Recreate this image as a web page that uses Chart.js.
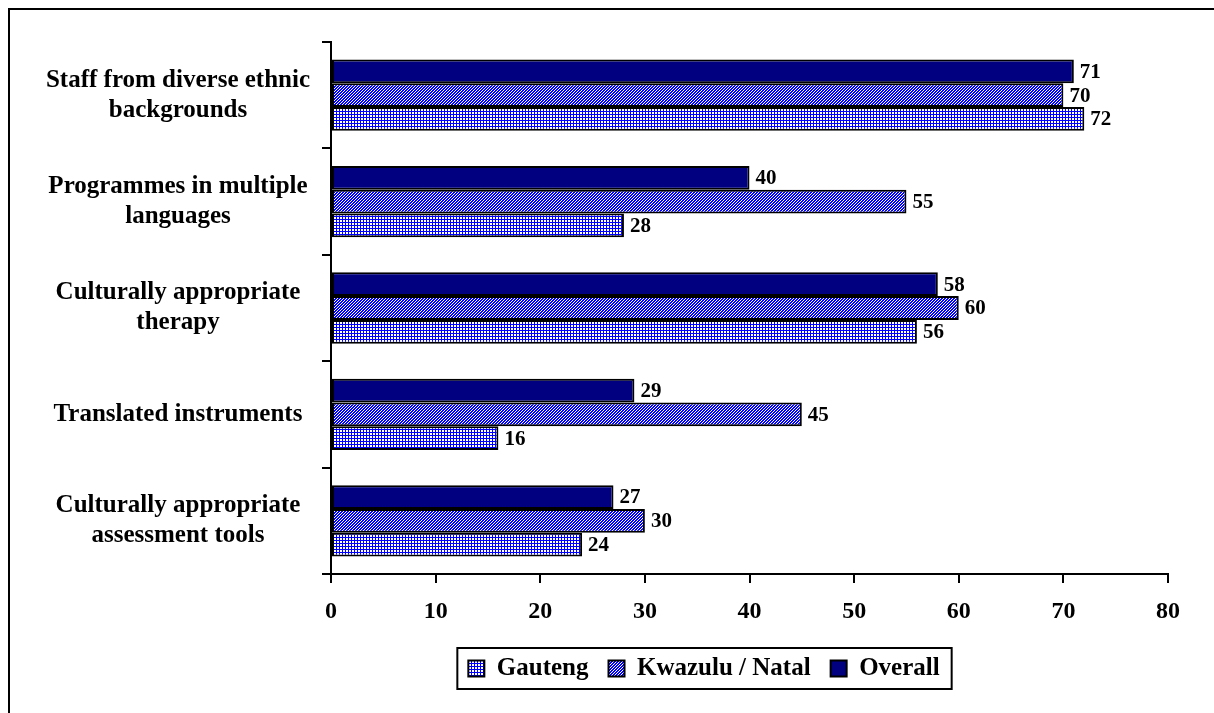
<!DOCTYPE html>
<html>
<head>
<meta charset="utf-8">
<title>Cultural diversity measures</title>
<script src="https://cdn.jsdelivr.net/npm/chart.js@4.4.0/dist/chart.umd.min.js"></script>
<style>
  body { margin: 0; background: #fff; overflow: hidden; }
  #frame { position: absolute; left: 8px; top: 8px; width: 1300px; height: 800px; border: 2px solid #000; }
  #chart { position: absolute; left: 0; top: 0; }
</style>
</head>
<body>
<div id="frame"></div>
<canvas id="chart" width="1214" height="713"></canvas>
<script>
const categories = [
  ["Staff from diverse ethnic", "backgrounds"],
  ["Programmes in multiple", "languages"],
  ["Culturally appropriate", "therapy"],
  "Translated instruments",
  ["Culturally appropriate", "assessment tools"],
];
const gauteng = [72, 28, 56, 16, 24];
const kwazulu = [70, 55, 60, 45, 30];
const overall = [71, 40, 58, 29, 27];
const xTicks = [0, 10, 20, 30, 40, 50, 60, 70, 80];

const serif = "'Liberation Serif', 'Times New Roman', serif";
const canvas = document.getElementById("chart");
const ctx = canvas.getContext("2d");

/**
 * Builds a small blue-on-white tile and turns it into a fill pattern
 * @param {Number} size tile size in px
 * @param {Function} paint (x, y) => true where the pixel is blue
 */
const makePattern = (size, paint) => {
  const tile = document.createElement("canvas");
  tile.width = size;
  tile.height = size;
  const t = tile.getContext("2d");
  t.fillStyle = "#ffffff";
  t.fillRect(0, 0, size, size);
  t.fillStyle = "#0000ff";
  for (let y = 0; y < size; y++) {
    for (let x = 0; x < size; x++) {
      if (paint(x, y)) t.fillRect(x, y, 1, 1);
    }
  }
  return ctx.createPattern(tile, "repeat");
};

const gridFill = makePattern(3, (x, y) => x === 0 || y === 0);
const hatchFill = makePattern(3, (x, y) => (x + y) % 3 < 2);

// numbers printed just past the end of every bar
const valueLabels = {
  id: "valueLabels",
  afterDatasetsDraw(chart) {
    const c = chart.ctx;
    c.save();
    c.font = "bold 21px " + serif;
    c.fillStyle = "#000";
    c.textAlign = "left";
    c.textBaseline = "middle";
    chart.data.datasets.forEach((ds, i) => {
      chart.getDatasetMeta(i).data.forEach((bar, j) => {
        c.fillText(ds.data[j], bar.x + 6, bar.y + 1);
      });
    });
    c.restore();
  },
};

// legend row is centred over a wider span than the plot, then framed
const legendLeft = 240;
const legendBox = {
  id: "legendBox",
  afterLayout(chart) {
    const lg = chart.legend;
    lg.width = lg.right - legendLeft;
    lg.left = legendLeft;
  },
  afterDraw(chart) {
    const boxes = chart.legend.legendHitBoxes;
    if (!boxes || !boxes.length) return;
    const left = Math.min(...boxes.map((b) => b.left)) - 11;
    const right = Math.max(...boxes.map((b) => b.left + b.width)) + 12;
    const top = boxes[0].top - 8;
    const bottom = boxes[0].top + boxes[0].height + 8;
    const c = chart.ctx;
    c.save();
    c.strokeStyle = "#000";
    c.lineWidth = 2;
    c.strokeRect(left, top, right - left, bottom - top);
    c.restore();
  },
};

new Chart(ctx, {
  type: "bar",
  data: {
    labels: categories,
    datasets: [
      { label: "Overall", data: overall, backgroundColor: "#000080" },
      { label: "Kwazulu / Natal", data: kwazulu, backgroundColor: hatchFill },
      { label: "Gauteng", data: gauteng, backgroundColor: gridFill },
    ],
  },
  options: {
    indexAxis: "y",
    responsive: false,
    animation: false,
    devicePixelRatio: 1,
    layout: { padding: { left: 20, right: 46, top: 41, bottom: 22 } },
    datasets: {
      bar: {
        categoryPercentage: 0.67,
        barPercentage: 1,
        borderColor: "#000",
        borderWidth: 2,
        borderSkipped: false,
      },
    },
    scales: {
      x: {
        min: 0,
        max: 80,
        afterBuildTicks: (scale) => {
          scale.ticks = xTicks.map((v) => ({ value: v }));
        },
        afterFit: (scale) => {
          scale.height = 62;
        },
        border: { color: "#000", width: 2 },
        grid: { drawOnChartArea: false, color: "#000", lineWidth: 2, tickLength: 9 },
        ticks: {
          color: "#000",
          padding: 14,
          maxRotation: 0,
          font: { family: serif, size: 24, weight: "bold" },
        },
      },
      y: {
        afterFit: (scale) => {
          scale.width = 311;
        },
        border: { color: "#000", width: 2 },
        grid: { drawOnChartArea: false, color: "#000", lineWidth: 2, tickLength: 9, offset: true },
        ticks: {
          color: "#000",
          crossAlign: "center",
          padding: 12,
          font: { family: serif, size: 25, weight: "bold", lineHeight: 1.2 },
        },
      },
    },
    plugins: {
      legend: {
        position: "bottom",
        reverse: true,
        labels: {
          boxWidth: 16,
          boxHeight: 16,
          padding: 20,
          color: "#000",
          font: { family: serif, size: 25, weight: "bold" },
        },
      },
      tooltip: { enabled: false },
    },
  },
  plugins: [valueLabels, legendBox],
});
</script>
</body>
</html>
